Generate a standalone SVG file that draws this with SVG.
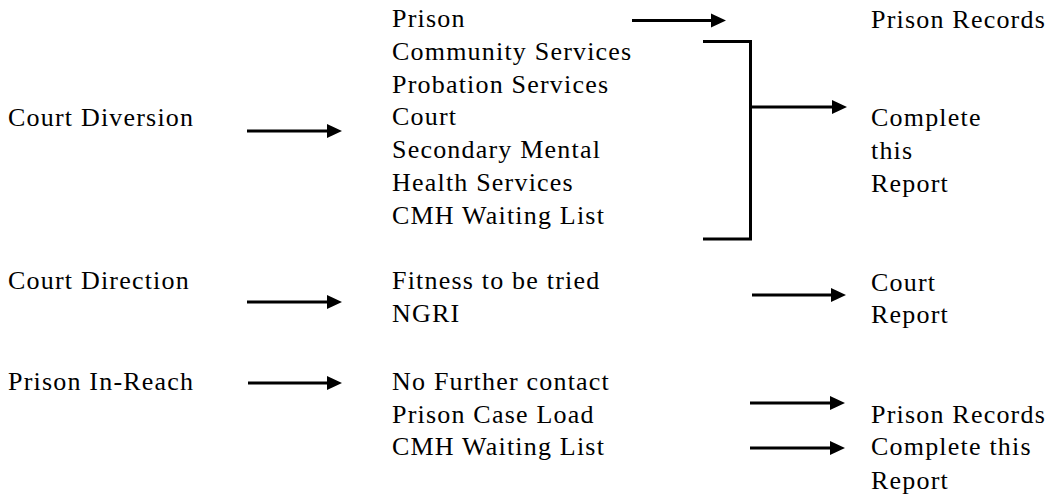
<svg xmlns="http://www.w3.org/2000/svg" width="1050" height="495" viewBox="0 0 1050 495">
<style>
.t text{font-family:'Liberation Serif','Times New Roman','DejaVu Serif',serif;font-size:26px;letter-spacing:1.2px;fill:#000}
.c line,.c path{stroke:#000;stroke-width:3;fill:none}
</style>
<defs>
<marker id="ah" markerUnits="userSpaceOnUse" markerWidth="15" markerHeight="15" refX="0" refY="7" orient="auto" overflow="visible">
<path d="M0,0 L15,7 L0,14 z" fill="#000"/>
</marker>
</defs>
<rect width="1050" height="495" fill="#fff"/>
<g class="t" font-family="Liberation Serif, serif">
<g id="court-diversion"><text x="8" y="126">Court Diversion</text></g>
<g id="court-diversion-outcomes">
<text x="392" y="27">Prison</text>
<text x="392" y="59.8">Community Services</text>
<text x="392" y="92.6">Probation Services</text>
<text x="392" y="125.4">Court</text>
<text x="392" y="158.2">Secondary Mental</text>
<text x="392" y="191">Health Services</text>
<text x="392" y="223.8">CMH Waiting List</text>
</g>
<g id="prison-records-top"><text x="871" y="28">Prison Records</text></g>
<g id="complete-report-top">
<text x="871" y="126">Complete</text>
<text x="871" y="159">this</text>
<text x="871" y="192">Report</text>
</g>
<g id="court-direction"><text x="8" y="289">Court Direction</text></g>
<g id="court-direction-outcomes">
<text x="392" y="289">Fitness to be tried</text>
<text x="392" y="322">NGRI</text>
</g>
<g id="court-report">
<text x="871" y="291">Court</text>
<text x="871" y="323">Report</text>
</g>
<g id="prison-in-reach"><text x="8" y="390">Prison In-Reach</text></g>
<g id="prison-in-reach-outcomes">
<text x="392" y="390">No Further contact</text>
<text x="392" y="423">Prison Case Load</text>
<text x="392" y="455">CMH Waiting List</text>
</g>
<g id="prison-records-bottom"><text x="871" y="423">Prison Records</text></g>
<g id="complete-report-bottom">
<text x="871" y="455">Complete this</text>
<text x="871" y="489">Report</text>
</g>
</g>
<g id="connectors" class="c">
<line x1="632" y1="20.5" x2="711" y2="20.5" marker-end="url(#ah)"/>
<line x1="247" y1="131" x2="327" y2="131" marker-end="url(#ah)"/>
<path d="M703,41.5 H750.5 V239 H703"/>
<line x1="750.5" y1="107" x2="832" y2="107" marker-end="url(#ah)"/>
<line x1="247" y1="302" x2="327" y2="302" marker-end="url(#ah)"/>
<line x1="752" y1="295" x2="831" y2="295" marker-end="url(#ah)"/>
<line x1="248" y1="383" x2="327" y2="383" marker-end="url(#ah)"/>
<line x1="750" y1="403" x2="830" y2="403" marker-end="url(#ah)"/>
<line x1="750" y1="448" x2="830" y2="448" marker-end="url(#ah)"/>
</g>
</svg>
